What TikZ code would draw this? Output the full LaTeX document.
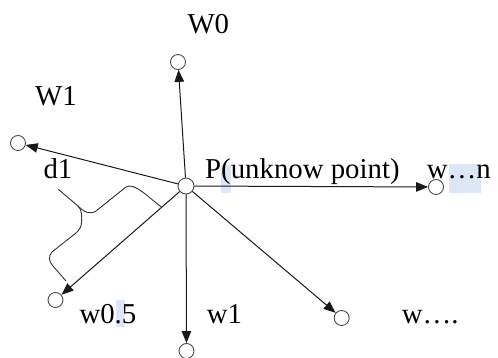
\documentclass[tikz,border=0pt]{standalone}
\usepackage{fontspec}
\setmainfont{Liberation Serif}
\usetikzlibrary{arrows.meta}
\definecolor{selblue}{RGB}{220,230,246}
\begin{document}
\begin{tikzpicture}[x=1pt,y=-1pt,
  pt/.style={circle,draw=black!70,line width=0.9pt,fill=white,minimum size=15pt,inner sep=0pt},
  arr/.style={line width=1pt,draw=black!90,-{Triangle[length=12pt,width=9.5pt]}},
  lbl/.style={anchor=base west,inner sep=0pt,font=\fontsize{28.8}{30}\selectfont},
  hl/.style={fill=selblue,draw=none},
  bracepath/.style={line width=0.9pt,draw=black!80,line join=round}]
\useasboundingbox (0,0) rectangle (498,358);
% selection highlights
\fill[hl] (220.7,165) rectangle (230.7,193.3);
\fill[hl] (449,164) rectangle (480.7,193.3);
\fill[hl] (116,300) rectangle (125,326.7);
% circles
\node[pt,minimum size=16pt] (P) at (186,186) {};
\node[pt] (c0) at (178,62) {};
\node[pt] (c1) at (18,143) {};
\node[pt] (cn) at (436,187) {};
\node[pt] (c05) at (55.5,300) {};
\node[pt] (cb) at (186.5,351) {};
\node[pt] (cd) at (341.7,318) {};
% arrows
\draw[arr] (P) -- (c0);
\draw[arr] (P) -- (c1);
\draw[arr] (P) -- (cn);
\draw[arr] (P) -- (c05);
\draw[arr] (P) -- (cb);
\draw[arr] (P) -- (cd);
% brace
\draw[bracepath] (161.7,207.3) .. controls (148,197) and (134,182) .. (126,187)
  -- (96,211) .. controls (90,215) and (84,212) .. (78,206) -- (58.3,189.3);
\draw[bracepath] (78,206) .. controls (82,210) and (82,216) .. (81.5,223)
  .. controls (81,228) and (79,230) .. (76,233) -- (52,252)
  .. controls (48,256) and (49,262) .. (53,266) -- (66,281);
% labels
\node[lbl] (tW0) at (187.3,33.3) {W0};
\node[lbl] (tW1) at (35,106) {W1};
\node[lbl] (td1) at (43.3,178.3) {d1};
\node[lbl] (tP) at (205,178.3) {P(unknow point)};
\node[lbl] (tn) at (426.7,178.3) {w…n};
\node[lbl] (t05) at (79.3,323.3) {w0.5};
\node[lbl] (tw1) at (206.7,323.3) {w1};
\node[lbl] (td) at (401.7,323.3) {w….};
\end{tikzpicture}
\end{document}
